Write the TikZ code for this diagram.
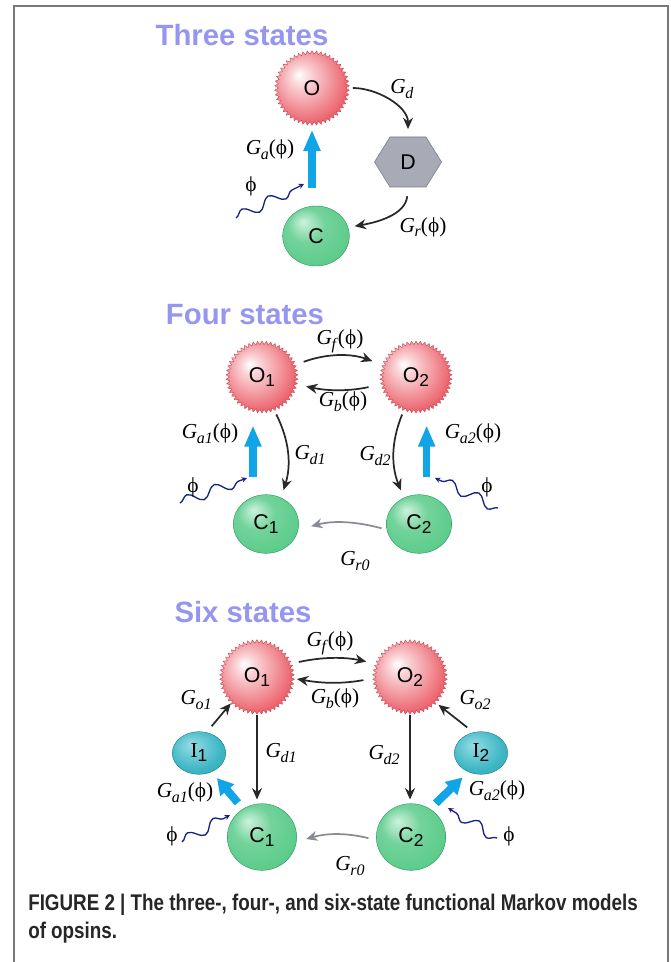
\documentclass[tikz,border=0pt]{standalone}
\usepackage{fontspec}
\setmainfont{Liberation Serif}
\newfontfamily\statefont{Liberation Sans}
\newfontfamily\capfont[FakeStretch=0.83]{Liberation Sans}
\usetikzlibrary{shapes.geometric, shapes.symbols, arrows.meta, decorations.pathmorphing}

\definecolor{headblue}{RGB}{150,150,240}
\definecolor{sunred}{RGB}{236,98,108}
\definecolor{sunpink}{RGB}{250,215,218}
\definecolor{sunedge}{RGB}{196,70,80}
\definecolor{ballgreen}{RGB}{80,200,130}
\definecolor{ballhi}{RGB}{205,242,220}
\definecolor{balledge}{RGB}{40,145,90}
\definecolor{iteal}{RGB}{60,182,196}
\definecolor{itealhi}{RGB}{150,220,228}
\definecolor{itealedge}{RGB}{30,120,140}
\definecolor{hexgray}{RGB}{168,170,182}
\definecolor{hexedge}{RGB}{118,120,132}
\definecolor{lightblue}{RGB}{15,165,230}
\definecolor{wavyblue}{RGB}{25,35,130}
\definecolor{arrdark}{RGB}{40,40,40}
\definecolor{grayarr}{RGB}{135,140,150}
\definecolor{framegray}{RGB}{120,120,120}

\pgfdeclareradialshading{sunshade}{\pgfpoint{-9bp}{9bp}}{%
  color(0bp)=(white); color(6bp)=(sunpink); color(28bp)=(sunred); color(50bp)=(sunred!92!black)}
\pgfdeclareradialshading{greenshade}{\pgfpoint{-10bp}{12bp}}{%
  color(0bp)=(ballhi); color(14bp)=(ballgreen!80!white); color(38bp)=(ballgreen); color(50bp)=(balledge)}
\pgfdeclareradialshading{tealshade}{\pgfpoint{-8bp}{10bp}}{%
  color(0bp)=(itealhi); color(25bp)=(iteal); color(50bp)=(iteal!85!black)}

% rate constant G with its index, and the index of a state
\newcommand{\gr}[1]{\textit{G}\kern-0.3pt\raisebox{-3.5pt}{\fontsize{12}{12}\selectfont\textit{#1}}}
\newcommand{\idx}[1]{\raisebox{-3pt}{\fontsize{13}{13}\selectfont #1}}

\begin{document}
\begin{tikzpicture}[
    x=0.75pt, y=0.75pt,
    heading/.style={font=\statefont\bfseries\fontsize{22}{22}\selectfont, text=headblue, inner sep=0pt},
    sun/.style={starburst, starburst points=50, starburst point height=2.6pt, random starburst=0,
        minimum size=#1, inner sep=0pt, draw=sunedge, line width=0.3pt, shading=sunshade,
        font=\statefont\fontsize{16}{16}\selectfont},
    ball/.style 2 args={ellipse, minimum width=#1, minimum height=#2, inner sep=0pt, draw=balledge,
        line width=0.3pt, shading=greenshade, font=\statefont\fontsize{16}{16}\selectfont},
    inact/.style 2 args={ellipse, minimum width=#1, minimum height=#2, inner sep=0pt, draw=itealedge,
        line width=0.3pt, shading=tealshade, font=\statefont\fontsize{16}{16}\selectfont},
    hexa/.style={fill=hexgray, draw=hexedge, line width=0.4pt},
    rate/.style={font=\fontsize{16}{16}\selectfont, inner sep=0pt},
    arr/.style={draw=arrdark, line width=1.3pt, -{Stealth[length=8.5pt,width=7.5pt]}},
    recov/.style={arr, draw=grayarr},
    light/.style={draw=lightblue, line width=5.5pt, -{Triangle[length=16pt,width=12pt]}},
    photon/.style={draw=wavyblue, line width=1pt, -{Stealth[length=4pt,width=4pt]}, decorate,
        decoration={snake, amplitude=4pt, segment length=22pt, post length=3pt}}
]
\useasboundingbox (0,0) rectangle (670,-962);
\draw[framegray, line width=1.5pt] (14,-962) -- (14,-6) -- (668,-6) -- (668,-962);

% ---- three states
\node[heading] (head3) at (242,-35) {Three states};
\node[sun=56pt] (O) at (312,-88) {O};
\coordinate (Dpos) at (408,-162);
\path[hexa] ([shift={(-33.5,0)}]Dpos) -- ([shift={(-18,25)}]Dpos) -- ([shift={(18,25)}]Dpos)
    -- ([shift={(33.5,0)}]Dpos) -- ([shift={(18,-25)}]Dpos) -- ([shift={(-18,-25)}]Dpos) -- cycle;
\node[minimum width=50pt, minimum height=37pt, inner sep=0pt, font=\statefont\fontsize{16}{16}\selectfont] (D) at (Dpos) {D};
\node[ball={50pt}{45pt}] (C) at (316,-236) {C};

\draw[arr, shorten <=5pt, shorten >=6pt] (O.east) to[out=0, in=90] (D.north);
\draw[arr, shorten <=7pt, shorten >=5pt] (D.south) to[out=-95, in=10] (C.15);
\draw[light, shorten <=13pt, shorten >=3pt] (O.south |- C.north) -- (O.south);
\coordinate (wv3a) at (236,-218);
\coordinate (wv3b) at (304,-184);
\draw[photon] (wv3a) -- (wv3b);

\node[rate] (gd) at (402,-89) {\gr{d}};
\node[rate] (gr) at (423,-227) {\gr{r}(ϕ)};
\node[rate] (ga) at (270,-150) {\gr{a}(ϕ)};
\node[rate] (ph3) at (251,-186) {ϕ};

% ---- four states
\node[heading] (head4) at (245,-315) {Four states};
\node[sun=54pt] (O1) at (262,-377) {O\idx{1}};
\node[sun=54pt] (O2) at (416,-377) {O\idx{2}};
\node[ball={49pt}{44pt}] (C1) at (266,-524) {C\idx{1}};
\node[ball={49pt}{44pt}] (C2) at (419,-524) {C\idx{2}};

\draw[arr, shorten <=7.5pt, shorten >=9pt] (O1.20) to[bend left=20] (O2.160);
\draw[arr, shorten <=10pt, shorten >=7.5pt] (O2.-168) to[bend left=12] (O1.-12);
\draw[arr, shorten <=4pt, shorten >=6pt] (O1.-70) to[bend left=22] (C1.60);
\draw[arr, shorten <=4pt, shorten >=6pt] (O2.-110) to[bend right=22] (C2.120);
\draw[light, shorten <=13pt, shorten >=9pt] ([xshift=-6.75pt]O1.south |- C1.north) -- ([xshift=-6.75pt]O1.south);
\draw[light, shorten <=13pt, shorten >=9pt] ([xshift=8pt]O2.south |- C2.north) -- ([xshift=8pt]O2.south);
\draw[recov, shorten <=4pt, shorten >=10pt] (C2.190) to[bend right=15] (C1.-10);
\coordinate (wv4a) at (180,-503);
\coordinate (wv4b) at (247,-478);
\coordinate (wv4c) at (498,-508);
\coordinate (wv4d) at (435,-478);
\draw[photon] (wv4a) -- (wv4b);
\draw[photon] (wv4c) -- (wv4d);

\node[rate] (gf4) at (340,-341) {\gr{f}(ϕ)};
\node[rate] (gb4) at (343,-402) {\gr{b}(ϕ)};
\node[rate] (ga41) at (210,-434) {\gr{a1}(ϕ)};
\node[rate] (ga42) at (473,-434) {\gr{a2}(ϕ)};
\node[rate] (gd41) at (310,-455) {\gr{d1}};
\node[rate] (gd42) at (375,-456) {\gr{d2}};
\node[rate] (gr4) at (355,-561) {\gr{r0}};
\node[rate] (ph41) at (193,-487) {ϕ};
\node[rate] (ph42) at (487,-487) {ϕ};

% ---- six states
\node[heading] (head6) at (243,-612) {Six states};
\node[sun=56pt] (O1s) at (257,-677) {O\idx{1}};
\node[sun=56pt] (O2s) at (410,-677) {O\idx{2}};
\node[inact={40pt}{32pt}] (I1) at (199,-753) {{\rmfamily I}\idx{1}};
\node[inact={40pt}{32pt}] (I2) at (481,-753) {{\rmfamily I}\idx{2}};
\node[ball={52pt}{50pt}] (C1s) at (262,-837) {C\idx{1}};
\node[ball={52pt}{50pt}] (C2s) at (411,-837) {C\idx{2}};

\draw[arr, shorten <=7.5pt, shorten >=9pt] (O1s.22) to[bend left=12] (O2s.158);
\draw[arr, shorten <=8pt, shorten >=3pt] (O2s.182) to[bend left=10] (O1s.-2);
\draw[arr, shorten <=6pt, shorten >=1pt] (I1.70) -- (O1s.225);
\draw[arr, shorten <=6pt, shorten >=3pt] (I2.110) -- (O2s.-45);
\draw[arr, shorten >=3pt] (O1s.south) -- (O1s.south |- C1s.north);
\draw[arr, shorten >=3pt] (O2s.south) -- (O2s.south |- C2s.north);
\draw[light, line width=6pt, -{Triangle[length=12pt,width=13pt]}, shorten <=6pt, shorten >=6pt] (C1s.124) -- (I1.-56);
\draw[light, line width=6pt, -{Triangle[length=12pt,width=13pt]}, shorten <=6pt, shorten >=6pt] (C2s.56) -- (I2.-124);
\draw[recov, shorten <=6pt, shorten >=7.5pt] (C2s.185) to[bend right=15] (C1s.-8);
\coordinate (wv6a) at (182,-842);
\coordinate (wv6b) at (230,-815);
\coordinate (wv6c) at (497,-838);
\coordinate (wv6d) at (448,-808);
\draw[photon] (wv6a) -- (wv6b);
\draw[photon] (wv6c) -- (wv6d);

\node[rate] (gf6) at (330,-643) {\gr{f}(ϕ)};
\node[rate] (gb6) at (335,-699) {\gr{b}(ϕ)};
\node[rate] (go61) at (196,-700) {\gr{o1}};
\node[rate] (go62) at (475,-700) {\gr{o2}};
\node[rate] (gd61) at (281,-753) {\gr{d1}};
\node[rate] (gd62) at (384,-755) {\gr{d2}};
\node[rate] (ga61) at (185,-793) {\gr{a1}(ϕ)};
\node[rate] (ga62) at (497,-791) {\gr{a2}(ϕ)};
\node[rate] (gr6) at (350,-866) {\gr{r0}};
\node[rate] (ph61) at (172,-836) {ϕ};
\node[rate] (ph62) at (509,-836) {ϕ};

% ---- caption
\node[anchor=north west, align=left, inner sep=0pt, text=black!85,
      font=\capfont\bfseries\fontsize{17}{21}\selectfont] (caption) at (28,-894)
    {FIGURE 2 | The three-, four-, and six-state functional Markov models\\of opsins.};
\end{tikzpicture}
\end{document}
